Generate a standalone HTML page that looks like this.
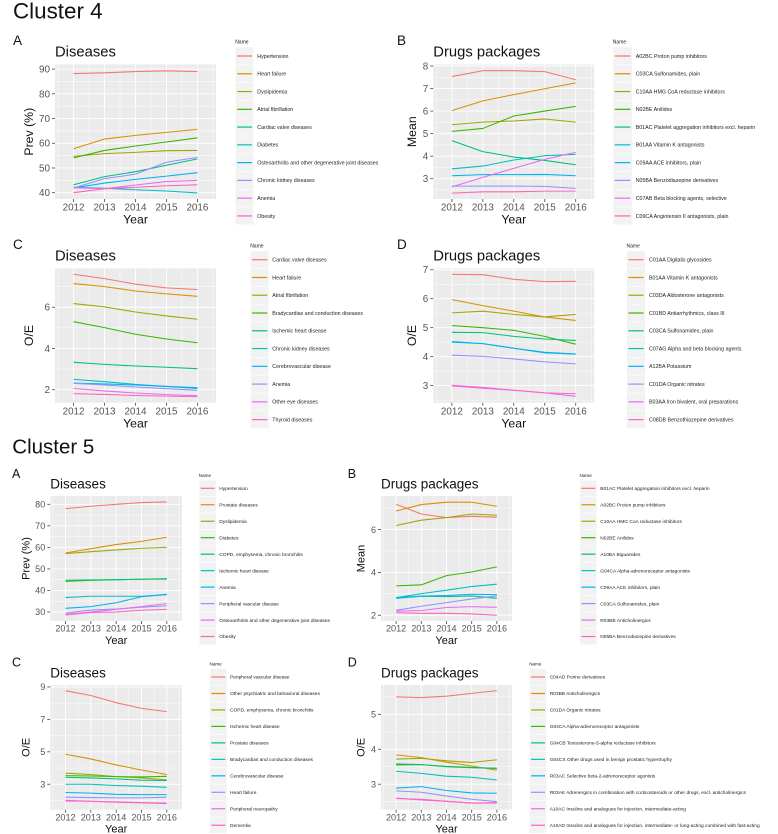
<!DOCTYPE html>
<html lang="en">
<head>
<meta charset="utf-8">
<title>Cluster 4 and Cluster 5 charts</title>
<style>
  html, body { margin: 0; padding: 0; background: #fff; }
  body { width: 778px; height: 834px; overflow: hidden; }
  svg { display: block; font-family: "Liberation Sans", sans-serif; filter: blur(0.3px); }
</style>
</head>
<body>
<svg id="chart" xmlns="http://www.w3.org/2000/svg" width="778" height="834" viewBox="0 0 778 834">
  <rect x="0" y="0" width="778" height="834" fill="#ffffff"/>
  <text x="13" y="18.3" font-size="22.4" fill="#111">Cluster 4</text>
  <text x="12.3" y="453.3" font-size="20.5" fill="#111">Cluster 5</text>
  <text x="13" y="45" font-size="13.5" fill="#111">A</text>
  <text x="397" y="45" font-size="13.5" fill="#111">B</text>
  <text x="13" y="249" font-size="13.5" fill="#111">C</text>
  <text x="397" y="249" font-size="13.5" fill="#111">D</text>
  <text x="12" y="478" font-size="12.5" fill="#111">A</text>
  <text x="347.7" y="478" font-size="12.5" fill="#111">B</text>
  <text x="12" y="666.7" font-size="12.5" fill="#111">C</text>
  <text x="347.7" y="666.7" font-size="12.5" fill="#111">D</text>
</svg>
<script>
// ---------- shared data ----------
const years = [2012, 2013, 2014, 2015, 2016];
const seriesColors = ['#F8766D', '#D89000', '#A3A500', '#39B600', '#00BF7D', '#00BFC4', '#00B0F6', '#9590FF', '#E76BF3', '#FF62BC'];

// ---------- Cluster 4, panel A ----------
const c4aNames = ['Hypertension', 'Heart failure', 'Dyslipidemia', 'Atrial fibrillation', 'Cardiac valve diseases', 'Diabetes', 'Osteoarthritis and other degenerative joint diseases', 'Chronic kidney diseases', 'Anemia', 'Obesity'];
const c4aTicks = [40, 50, 60, 70, 80, 90];
const c4aValues = [
  [88.2, 88.5, 89, 89.3, 89],
  [57.8, 61.7, 63.2, 64.4, 65.6],
  [54.7, 55.8, 56.3, 57, 57.1],
  [54.1, 57.1, 58.9, 60.5, 62.2],
  [43.2, 46.5, 48.5, 51.1, 53.7],
  [42.2, 41.8, 41.2, 40.7, 39.9],
  [41.9, 43.9, 45.4, 46.7, 48.1],
  [41.9, 45.7, 47.5, 52.3, 54.3],
  [42, 41.6, 43.1, 44.5, 45],
  [40, 41.6, 42.2, 42.8, 43.2]
];

// ---------- Cluster 4, panel B ----------
const c4bNames = ['A02BC Proton pump inhibitors', 'C03CA Sulfonamides, plain', 'C10AA HMG CoA reductase inhibitors', 'N02BE Anilides', 'B01AC Platelet aggregation inhibitors excl. heparin', 'B01AA Vitamin K antagonists', 'C09AA ACE inhibitors, plain', 'N05BA Benzodiazepine derivatives', 'C07AB Beta blocking agents, selective', 'C09CA Angiotensin II antagonists, plain'];
const c4bTicks = [3, 4, 5, 6, 7, 8];
const c4bValues = [
  [7.53, 7.79, 7.79, 7.75, 7.39],
  [6.02, 6.45, 6.73, 6.99, 7.25],
  [5.4, 5.51, 5.56, 5.65, 5.51],
  [5.1, 5.23, 5.78, 6.0, 6.21],
  [4.69, 4.2, 3.96, 3.81, 3.62],
  [3.44, 3.56, 3.83, 4.02, 4.08],
  [3.13, 3.18, 3.18, 3.19, 3.13],
  [2.67, 2.67, 2.67, 2.66, 2.57],
  [2.64, 3.06, 3.46, 3.86, 4.17],
  [2.36, 2.42, 2.42, 2.45, 2.45]
];

// ---------- Cluster 4, panel C ----------
const c4cNames = ['Cardiac valve diseases', 'Heart failure', 'Atrial fibrillation', 'Bradycardias and conduction diseases', 'Ischemic heart disease', 'Chronic kidney diseases', 'Cerebrovascular disease', 'Anemia', 'Other eye diseases', 'Thyroid diseases'];
const c4cTicks = [2, 4, 6];
const c4cValues = [
  [7.6, 7.39, 7.12, 6.94, 6.86],
  [7.15, 7.0, 6.79, 6.65, 6.53],
  [6.18, 6.02, 5.77, 5.58, 5.42],
  [5.3, 5.01, 4.69, 4.46, 4.28],
  [3.33, 3.23, 3.15, 3.09, 3.02],
  [2.5, 2.39, 2.26, 2.16, 2.06],
  [2.32, 2.28, 2.23, 2.16, 2.1],
  [2.31, 2.23, 2.13, 2.05, 1.97],
  [2.06, 1.94, 1.84, 1.76, 1.71],
  [1.81, 1.77, 1.72, 1.69, 1.66]
];

// ---------- Cluster 4, panel D ----------
const c4dNames = ['C01AA Digitalis glycosides', 'B01AA Vitamin K antagonists', 'C03DA Aldosterone antagonists', 'C01BD Antiarrhythmics, class III', 'C03CA Sulfonamides, plain', 'C07AG Alpha and beta blocking agents', 'A12BA Potassium', 'C01DA Organic nitrates', 'B03AA Iron bivalent, oral preparations', 'C08DB Benzothiazepine derivatives'];
const c4dTicks = [3, 4, 5, 6, 7];
const c4dValues = [
  [6.84, 6.83, 6.67, 6.59, 6.6],
  [5.97, 5.76, 5.57, 5.37, 5.25],
  [5.51, 5.57, 5.46, 5.37, 5.46],
  [5.07, 5.0, 4.91, 4.7, 4.43],
  [4.84, 4.83, 4.7, 4.61, 4.56],
  [4.52, 4.45, 4.29, 4.15, 4.09],
  [4.5, 4.45, 4.29, 4.13, 4.09],
  [4.05, 4.01, 3.92, 3.82, 3.75],
  [3.01, 2.94, 2.84, 2.75, 2.63],
  [2.99, 2.91, 2.84, 2.75, 2.72]
];

// ---------- Cluster 5, panel A ----------
const c5aNames = ['Hypertension', 'Prostate diseases', 'Dyslipidemia', 'Diabetes', 'COPD, emphysema, chronic bronchitis', 'Ischemic heart disease', 'Anemia', 'Peripheral vascular disease', 'Osteoarthritis and other degenerative joint diseases', 'Obesity'];
const c5aTicks = [30, 40, 50, 60, 70, 80];
const c5aValues = [
  [78, 79.1, 80, 80.8, 81.1],
  [57.4, 59.4, 61.3, 62.8, 64.7],
  [57.1, 58, 58.8, 59.6, 60],
  [44.2, 44.7, 45, 45.2, 45.3],
  [44.7, 44.9, 45, 45.2, 45.5],
  [36.7, 37.3, 37.3, 37.3, 38],
  [31.7, 32.5, 34.3, 37.1, 38.2],
  [29.5, 30.9, 31.4, 32.2, 32.9],
  [28.9, 30, 31.2, 32.5, 33.9],
  [28.6, 29.8, 30, 30.8, 31.2]
];

// ---------- Cluster 5, panel B ----------
const c5bNames = ['B01AC Platelet aggregation inhibitors excl. heparin', 'A02BC Proton pump inhibitors', 'C10AA HMG CoA reductase inhibitors', 'N02BE Anilides', 'A10BA Biguanides', 'G04CA Alpha-adrenoreceptor antagonists', 'C09AA ACE inhibitors, plain', 'C03CA Sulfonamides, plain', 'R03BB Anticholinergics', 'N05BA Benzodiazepine derivatives'];
const c5bTicks = [2, 4, 6];
const c5bValues = [
  [7.18, 6.73, 6.56, 6.62, 6.58],
  [6.87, 7.17, 7.28, 7.28, 7.09],
  [6.19, 6.44, 6.56, 6.73, 6.67],
  [3.37, 3.42, 3.85, 4.02, 4.26],
  [2.82, 2.89, 2.87, 2.9, 2.79],
  [2.82, 3.01, 3.17, 3.34, 3.45],
  [2.79, 2.89, 2.92, 2.98, 2.96],
  [2.23, 2.42, 2.59, 2.76, 2.9],
  [2.19, 2.22, 2.36, 2.4, 2.37],
  [2.12, 2.09, 2.09, 2.06, 2.0]
];

// ---------- Cluster 5, panel C ----------
const c5cNames = ['Peripheral vascular disease', 'Other psychiatric and behavioral diseases', 'COPD, emphysema, chronic bronchitis', 'Ischemic heart disease', 'Prostate diseases', 'Bradycardias and conduction diseases', 'Cerebrovascular disease', 'Heart failure', 'Peripheral neuropathy', 'Dementia'];
const c5cTicks = [3, 5, 7, 9];
const c5cValues = [
  [8.77, 8.47, 8.03, 7.68, 7.48],
  [4.85, 4.56, 4.19, 3.88, 3.6],
  [3.68, 3.6, 3.47, 3.39, 3.27],
  [3.53, 3.51, 3.47, 3.45, 3.49],
  [3.43, 3.39, 3.33, 3.25, 3.23],
  [3.0, 3.0, 2.92, 2.88, 2.81],
  [2.49, 2.45, 2.38, 2.36, 2.36],
  [2.2, 2.18, 2.16, 2.16, 2.2],
  [2.01, 1.95, 1.91, 1.87, 1.83],
  [1.97, 1.95, 1.89, 1.85, 1.81]
];

// ---------- Cluster 5, panel D ----------
const c5dNames = ['C04AD Purine derivatives', 'R03BB Anticholinergics', 'C01DA Organic nitrates', 'G04CA Alpha-adrenoreceptor antagonists', 'G04CB Testosterone-5-alpha reductase inhibitors', 'G04CX Other drugs used in benign prostatic hypertrophy', 'R03AC Selective beta-2-adrenoreceptor agonists', 'R03AK Adrenergics in combination with corticosteroids or other drugs, excl. anticholinergics', 'A10AC Insulins and analogues for injection, intermediate-acting', 'A10AD Insulins and analogues for injection, intermediate- or long-acting combined with fast-acting'];
const c5dTicks = [3, 4, 5];
const c5dValues = [
  [5.5, 5.48, 5.52, 5.6, 5.68],
  [3.84, 3.76, 3.63, 3.52, 3.4],
  [3.72, 3.74, 3.67, 3.62, 3.7],
  [3.55, 3.56, 3.51, 3.48, 3.45],
  [3.58, 3.56, 3.5, 3.47, 3.46],
  [3.37, 3.31, 3.23, 3.2, 3.12],
  [2.89, 2.93, 2.82, 2.75, 2.74],
  [2.81, 2.77, 2.66, 2.57, 2.5],
  [2.6, 2.55, 2.51, 2.46, 2.46],
  [2.59, 2.57, 2.51, 2.46, 2.47]
];

// ---------- layout (not data) ----------
const NS = 'http://www.w3.org/2000/svg';
const svg = document.getElementById('chart');
const xDomain = [2011.4, 2016.6];
const fonts4 = { tick: 9.9, axis: 12.3, title: 14.8, legend: 5.3, name: 5, yearGap: 24.6, tickGap: 11.7 };
const fonts5 = { tick: 9.1, axis: 11, title: 13.5, legend: 4.85, name: 4.6, yearGap: 23, tickGap: 10.7 };

const panels = [
  { id: 'c4a', title: 'Diseases', yLabel: 'Prev (%)', names: c4aNames, ticks: c4aTicks, values: c4aValues, dom: [37.45, 91.9], l: 55, r: 216, t: 64.4, b: 199, yT: 29, titleY: 56.7, f: fonts4,
    lg: { nameY: 43.5, keyX: 235.7, keyW: 17.7, textX: 257.3, first: 56, step: 17.77 } },
  { id: 'c4b', title: 'Drugs packages', yLabel: 'Mean', names: c4bNames, ticks: c4bTicks, values: c4bValues, dom: [2.1, 8.07], l: 433.3, r: 594.3, t: 64.4, b: 199, yT: 412, titleY: 56.7, f: fonts4,
    lg: { nameY: 43.5, keyX: 613.3, keyW: 18.5, textX: 635.7, first: 56, step: 17.77 } },
  { id: 'c4c', title: 'Diseases', yLabel: 'O/E', names: c4cNames, ticks: c4cTicks, values: c4cValues, dom: [1.37, 7.89], l: 55, r: 216, t: 268.3, b: 402.7, yT: 29, titleY: 260.3, f: fonts4,
    lg: { nameY: 247.3, keyX: 250.7, keyW: 18, textX: 272.3, first: 259.7, step: 17.77 } },
  { id: 'c4d', title: 'Drugs packages', yLabel: 'O/E', names: c4dNames, ticks: c4dTicks, values: c4dValues, dom: [2.41, 7.05], l: 433.3, r: 594.3, t: 268.3, b: 402.7, yT: 412, titleY: 260.3, f: fonts4,
    lg: { nameY: 247.3, keyX: 627, keyW: 18, textX: 649, first: 259.7, step: 17.77 } },
  { id: 'c5a', title: 'Diseases', yLabel: 'Prev (%)', names: c5aNames, ticks: c5aTicks, values: c5aValues, dom: [25.82, 83.85], l: 50.3, r: 182, t: 496, b: 621, yT: 26.7, titleY: 488.7, f: fonts5,
    lg: { nameY: 477, keyX: 199.3, keyW: 16.7, textX: 219.3, first: 488.3, step: 16.47 } },
  { id: 'c5b', title: 'Drugs packages', yLabel: 'Mean', names: c5bNames, ticks: c5bTicks, values: c5bValues, dom: [1.73, 7.57], l: 381, r: 512, t: 496, b: 621, yT: 361.7, titleY: 488.7, f: fonts5,
    lg: { nameY: 477, keyX: 580, keyW: 16.7, textX: 600.3, first: 488.3, step: 16.47 } },
  { id: 'c5c', title: 'Diseases', yLabel: 'O/E', names: c5cNames, ticks: c5cTicks, values: c5cValues, dom: [1.43, 9.12], l: 50.3, r: 182, t: 685, b: 809.7, yT: 26.7, titleY: 677.7, f: fonts5,
    lg: { nameY: 665.6, keyX: 210, keyW: 16.7, textX: 230, first: 677, step: 16.47 } },
  { id: 'c5d', title: 'Drugs packages', yLabel: 'O/E', names: c5dNames, ticks: c5dTicks, values: c5dValues, dom: [2.27, 5.84], l: 381, r: 512, t: 685, b: 809.7, yT: 361.7, titleY: 677.7, f: fonts5,
    lg: { nameY: 665.6, keyX: 529.7, keyW: 16.7, textX: 549.7, first: 677, step: 16.47 } }
];

function make(tag, parent, props, content) {
  const node = document.createElementNS(NS, tag);
  for (const k in props) node.setAttribute(k, props[k]);
  if (content !== undefined) node.textContent = content;
  parent.appendChild(node);
  return node;
}
function slug(s) {
  return s.toLowerCase().replace(/[^a-z0-9]+/g, '-').replace(/^-|-$/g, '').slice(0, 48);
}

function drawPanel(p) {
  const xScale = v => p.l + (v - xDomain[0]) / (xDomain[1] - xDomain[0]) * (p.r - p.l);
  const yScale = v => p.t + (p.dom[1] - v) / (p.dom[1] - p.dom[0]) * (p.b - p.t);

  const g = make('g', svg, {});
  
  

  const bg = make('rect', g, { x: p.l, y: p.t, width: p.r - p.l, height: p.b - p.t, fill: '#EBEBEB' });
  
  

  // minor y grid
  const yStep = p.ticks[1] - p.ticks[0];
  for (let v = p.ticks[0] - yStep / 2; v < p.dom[1]; v += yStep) {
    if (v <= p.dom[0]) continue;
    const minorY = make('line', g, { x1: p.l, x2: p.r, y1: yScale(v), y2: yScale(v), stroke: '#fff', 'stroke-width': 0.45 });
    
    
  }
  // minor x grid
  for (let v = years[0] - 0.5; v < xDomain[1]; v += 1) {
    const minorX = make('line', g, { x1: xScale(v), x2: xScale(v), y1: p.t, y2: p.b, stroke: '#fff', 'stroke-width': 0.45 });
    
    
  }
  // major y grid, ticks, labels
  p.ticks.forEach(v => {
    const y = yScale(v);
    const grid = make('line', g, { x1: p.l, x2: p.r, y1: y, y2: y, stroke: '#fff', 'stroke-width': 0.9 });
    
    
    const tick = make('line', g, { x1: p.l - 3, x2: p.l, y1: y, y2: y, stroke: '#444', 'stroke-width': 0.8 });
    
    
    const label = make('text', g, { x: p.l - 5, y: y + p.f.tick * 0.35, 'text-anchor': 'end', 'font-size': p.f.tick, fill: '#555' }, String(v));
    
    
  });
  // major x grid, ticks, labels
  years.forEach(v => {
    const x = xScale(v);
    const grid = make('line', g, { x1: x, x2: x, y1: p.t, y2: p.b, stroke: '#fff', 'stroke-width': 0.9 });
    
    
    const tick = make('line', g, { x1: x, x2: x, y1: p.b, y2: p.b + 3, stroke: '#444', 'stroke-width': 0.8 });
    
    
    const label = make('text', g, { x: x, y: p.b + p.f.tickGap, 'text-anchor': 'middle', 'font-size': p.f.tick, fill: '#555' }, String(v));
    
    
  });

  // series
  p.values.forEach((vals, i) => {
    const pts = vals.map((v, j) => xScale(years[j]).toFixed(2) + ',' + yScale(v).toFixed(2)).join(' ');
    const line = make('polyline', g, { points: pts, fill: 'none', stroke: seriesColors[i], 'stroke-width': 1.05, 'stroke-linejoin': 'round' });
    
    
  });

  // titles
  const title = make('text', g, { x: p.l, y: p.titleY, 'font-size': p.f.title, fill: '#111' }, p.title);
  
  
  const xTitle = make('text', g, { x: (p.l + p.r) / 2, y: p.b + p.f.yearGap, 'text-anchor': 'middle', 'font-size': p.f.axis, fill: '#111' }, 'Year');
  
  
  const cy = (p.t + p.b) / 2;
  const yTitle = make('text', g, { x: p.yT, y: cy, 'text-anchor': 'middle', 'dominant-baseline': 'central', transform: 'rotate(-90 ' + p.yT + ' ' + cy + ')', 'font-size': p.f.axis, fill: '#111' }, p.yLabel);
  
  

  // legend
  const lg = make('g', g, {});
  
  
  const lgName = make('text', lg, { x: p.lg.keyX - 0.5, y: p.lg.nameY, 'font-size': p.f.name, fill: '#222' }, 'Name');
  
  
  p.names.forEach((name, i) => {
    const cyKey = p.lg.first + i * p.lg.step;
    const entry = make('g', lg, {});
    
    
    make('rect', entry, { x: p.lg.keyX, y: cyKey - p.lg.step / 2 + 0.3, width: p.lg.keyW, height: p.lg.step - 0.6, fill: '#F2F2F2' });
    make('rect', entry, { x: p.lg.keyX + 1.4, y: cyKey - 0.6, width: p.lg.keyW - 2.8, height: 1.2, fill: seriesColors[i] });
    make('text', entry, { x: p.lg.textX, y: cyKey + p.f.legend * 0.35, 'font-size': p.f.legend, fill: '#222' }, name);
  });
}

panels.forEach(drawPanel);
</script>
</body>
</html>
